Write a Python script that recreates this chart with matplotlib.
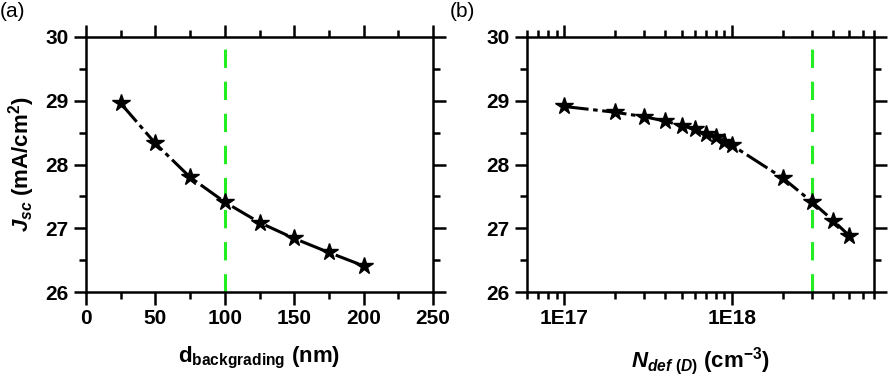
import matplotlib.pyplot as plt
from matplotlib.ticker import MultipleLocator, LogLocator, NullFormatter, FixedFormatter, FixedLocator

plt.rcParams['font.family'] = 'Liberation Sans'
plt.rcParams['font.weight'] = 'bold'
plt.rcParams['axes.labelweight'] = 'bold'
plt.rcParams['mathtext.fontset'] = 'custom'
plt.rcParams['mathtext.rm'] = 'Liberation Sans:bold'
plt.rcParams['mathtext.it'] = 'Liberation Sans:italic:bold'
plt.rcParams['mathtext.bf'] = 'Liberation Sans:bold'

# panel (a)
d_back = [25, 50, 75, 100, 125, 150, 175, 200]
jsc_a = [28.96, 28.33, 27.80, 27.41, 27.09, 26.84, 26.62, 26.41]
d_opt = 100

# panel (b)
n_def = [1e17, 2e17, 3e17, 4e17, 5e17, 6e17, 7e17, 8e17, 9e17,
         1e18, 2e18, 3e18, 4e18, 5e18]
jsc_b = [28.91, 28.82, 28.75, 28.68, 28.61, 28.55, 28.48, 28.43, 28.36,
         28.30, 27.79, 27.41, 27.12, 26.88]
n_opt = 3e18

fig = plt.figure(figsize=(8.89, 3.84), dpi=100)
ax1 = fig.add_axes([86/889, 1-292/384, 347/889, 255/384])
ax2 = fig.add_axes([527/889, 1-292/384, 347/889, 255/384])

green = '#22ee22'
for ax in (ax1, ax2):
    for s in ax.spines.values():
        s.set_linewidth(1.8)
    ax.tick_params(which='both', direction='out', top=True, right=True,
                   width=1.8, labelsize=15)
    ax.tick_params(which='major', length=9)
    ax.tick_params(which='minor', length=5)
    ax.set_ylim(26, 30)
    ax.yaxis.set_major_locator(MultipleLocator(1))
    ax.yaxis.set_minor_locator(MultipleLocator(0.5))

line_kw = dict(color='black', lw=2.2, dashes=(8, 1.5, 1.5, 1.5),
               marker='*', ms=13, mfc='black', mec='black', zorder=3)

ax1.plot(d_back, jsc_a, **line_kw)
ax1.axvline(d_opt, color=green, lw=2.2, dashes=(6, 4.5), zorder=2)
ax1.set_xlim(0, 250)
ax1.xaxis.set_major_locator(MultipleLocator(50))
ax1.xaxis.set_minor_locator(MultipleLocator(25))
ax1.set_xlabel(r'd$_{\mathrm{backgrading}}$ (nm)', fontsize=16, labelpad=12)
ax1.set_ylabel(r'$J_{sc}$ (mA/cm$^{2}$)', fontsize=16, labelpad=6)

ax2.plot(n_def, jsc_b, **line_kw)
ax2.axvline(n_opt, color=green, lw=2.2, dashes=(6, 4.5), zorder=2)
ax2.set_xscale('log')
ax2.set_xlim(6e16, 7e18)
ax2.xaxis.set_major_locator(FixedLocator([1e17, 1e18]))
ax2.xaxis.set_major_formatter(FixedFormatter(['1E17', '1E18']))
ax2.xaxis.set_minor_locator(LogLocator(base=10, subs=range(2, 10), numticks=20))
ax2.xaxis.set_minor_formatter(NullFormatter())
ax2.set_xlabel(r'$N_{def\ (D)}$ (cm$^{-3}$)', fontsize=16, labelpad=12)

for ax in (ax1, ax2):
    for lab in ax.get_xticklabels() + ax.get_yticklabels():
        lab.set_fontweight('bold')

fig.text(0.0, 0.995, '(a)', fontsize=15, fontweight='normal', va='top', ha='left')
fig.text(450/889, 0.995, '(b)', fontsize=15, fontweight='normal', va='top', ha='left')

fig.savefig('out.png', dpi=100)
